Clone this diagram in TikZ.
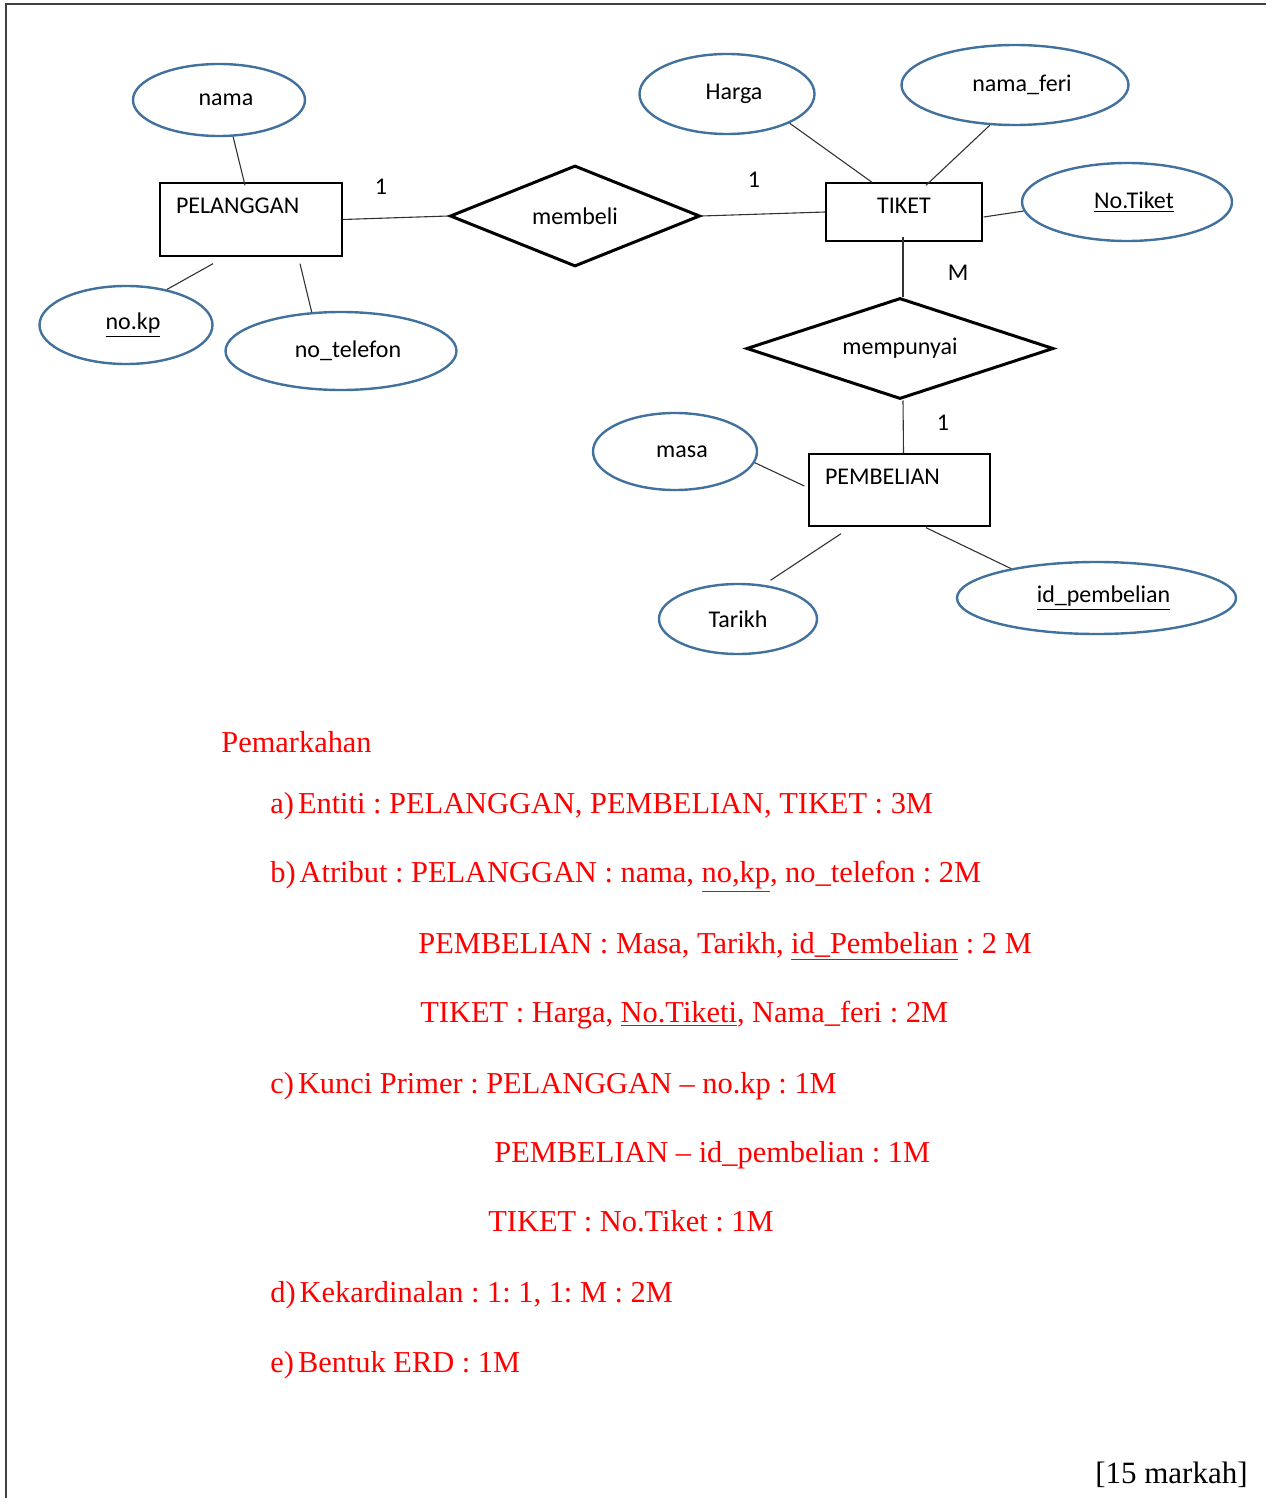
\documentclass[tikz,border=0pt]{standalone}
\usepackage{fontspec}
\setmainfont{Liberation Serif}
\newfontfamily\erdfont{Carlito}
\usetikzlibrary{shapes.geometric,positioning}
\frenchspacing

\definecolor{attrblue}{RGB}{65,113,156}
\newcommand{\erdsize}{\erdfont\fontsize{12}{14.5}\selectfont}

\tikzset{
  attrplain/.style={ellipse,draw=attrblue,line width=1.2pt,inner sep=0pt,font=\erdsize},
  attr/.style={attrplain,execute at begin node=\hspace*{7pt}},
  entity/.style={draw,line width=0.7pt,inner sep=0pt,font=\erdsize},
  entitytl/.style={entity,align=left,inner xsep=8pt,text width=#1,text height=8pt,text depth=14pt},
  rel/.style={diamond,aspect=4,draw,line width=1.5pt,inner sep=0pt,font=\erdsize},
  link/.style={draw=black!80,line width=0.55pt},
  card/.style={font=\erdsize},
  markline/.style={anchor=base west,text=red,inner sep=0pt,font=\fontsize{15.2}{18}\selectfont}
}

\begin{document}
\begin{tikzpicture}[x=0.5pt,y=-0.5pt]
\useasboundingbox (0,0) rectangle (1266,1498);
\draw[black!75,line width=0.8pt] (1266,4) -- (6,4) -- (6,1498);

% entiti
\node[entitytl=75pt,minimum width=91pt,minimum height=36.5pt] (pel) at (251,219.5) {PELANGGAN};
\node[entity,minimum width=78pt,minimum height=29pt,text depth=6pt] (tiket) at (904,212) {TIKET};
\node[entitytl=74.5pt,minimum width=90.5pt,minimum height=36pt] (pemb) at (899.5,490) {PEMBELIAN};

% hubungan
\node[rel,minimum width=125pt,minimum height=50.5pt] (membeli) at (575,216) {membeli};
\node[rel,minimum width=153.5pt,minimum height=50.5pt] (mempunyai) at (900,348.5) {mempunyai};

% atribut
\node[attr,minimum width=86pt,minimum height=36pt] (nama) at (219,100) {nama};
\node[attr,minimum width=86.5pt,minimum height=39pt] (nokp) at (126,325) {\underline{no.kp}};
\node[attr,minimum width=115.5pt,minimum height=39pt] (notel) at (341,351) {no\_telefon};
\node[attr,minimum width=87.5pt,minimum height=40pt] (harga) at (727,94) {Harga};
\node[attr,minimum width=113.5pt,minimum height=40pt] (namaferi) at (1015,85) {nama\_feri};
\node[attr,minimum width=105pt,minimum height=39pt] (notiket) at (1127,202) {\underline{No.Tiket}};
\node[attr,minimum width=82pt,minimum height=38.5pt] (masa) at (675,451.5) {masa};
\node[attrplain,minimum width=79pt,minimum height=35pt] (tarikh) at (738,619) {Tarikh};
\node[attr,minimum width=139.5pt,minimum height=36pt] (idpemb) at (1096.5,598) {\underline{id\_pembelian}};

% kardinaliti
\node[card] (c1) at (381,187) {1};
\node[card] (c2) at (754,180) {1};
\node[card] (c3) at (958,273) {M};
\node[card] (c4) at (943,423) {1};

% garisan
\draw[link] (nama.-69) -- ([shift={(-6,3)}]pel.north);
\draw[link] (nokp.41) -- ([shift={(-38,7)}]pel.south);
\draw[link] (notel.127) -- ([shift={(49,7)}]pel.south);
\draw[link] (pel.east) -- (membeli.west);
\draw[link] (membeli.east) -- (tiket.west);
\draw[link] (harga.-25) -- ([shift={(-32,0)}]tiket.north);
\draw[link] (namaferi.-122) -- ([shift={(22,3)}]tiket.north);
\draw[link] ([shift={(1,5)}]tiket.east) -- (notiket.185);
\draw[link] ([shift={(-1,-5)}]tiket.south) -- ([shift={(3,0)}]mempunyai.north);
\draw[link] ([shift={(3,0)}]mempunyai.south) -- ([shift={(4,0)}]pemb.north);
\draw[link] (masa.-8) -- ([shift={(-4,-4)}]pemb.west);
\draw[link,shorten <=4pt] (tarikh.53) -- ([shift={(-58.5,7)}]pemb.south);
\draw[link] (idpemb.161) -- ([shift={(26.5,1)}]pemb.south);

% pemarkahan
\node[markline] (m0) at (221,752) {Pemarkahan};
\node[markline] (ma) at (270,813) {a)\kern2pt Entiti : PELANGGAN, PEMBELIAN, TIKET : 3M};
\node[markline] (mb) at (270,882) {b)\kern2pt Atribut : PELANGGAN : nama, \underline{no,kp}, no\_telefon : 2M};
\node[markline] (mb2) at (418,953) {PEMBELIAN : Masa, Tarikh, \underline{id\_Pembelian} : 2 M};
\node[markline] (mb3) at (420,1022) {TIKET : Harga, \underline{No.Tiketi}, Nama\_feri : 2M};
\node[markline] (mc) at (270,1093) {c)\kern2pt Kunci Primer : PELANGGAN -- no.kp : 1M};
\node[markline] (mc2) at (494,1162) {PEMBELIAN -- id\_pembelian : 1M};
\node[markline] (mc3) at (488,1231) {TIKET : No.Tiket : 1M};
\node[markline] (md) at (270,1302) {d)\kern2pt Kekardinalan : 1: 1, 1: M : 2M};
\node[markline] (me) at (270,1372) {e)\kern2pt Bentuk ERD : 1M};
\node[anchor=base east,inner sep=0pt,font=\fontsize{15.5}{18}\selectfont] (jumlah) at (1248,1483) {[15 markah]};
\end{tikzpicture}
\end{document}
